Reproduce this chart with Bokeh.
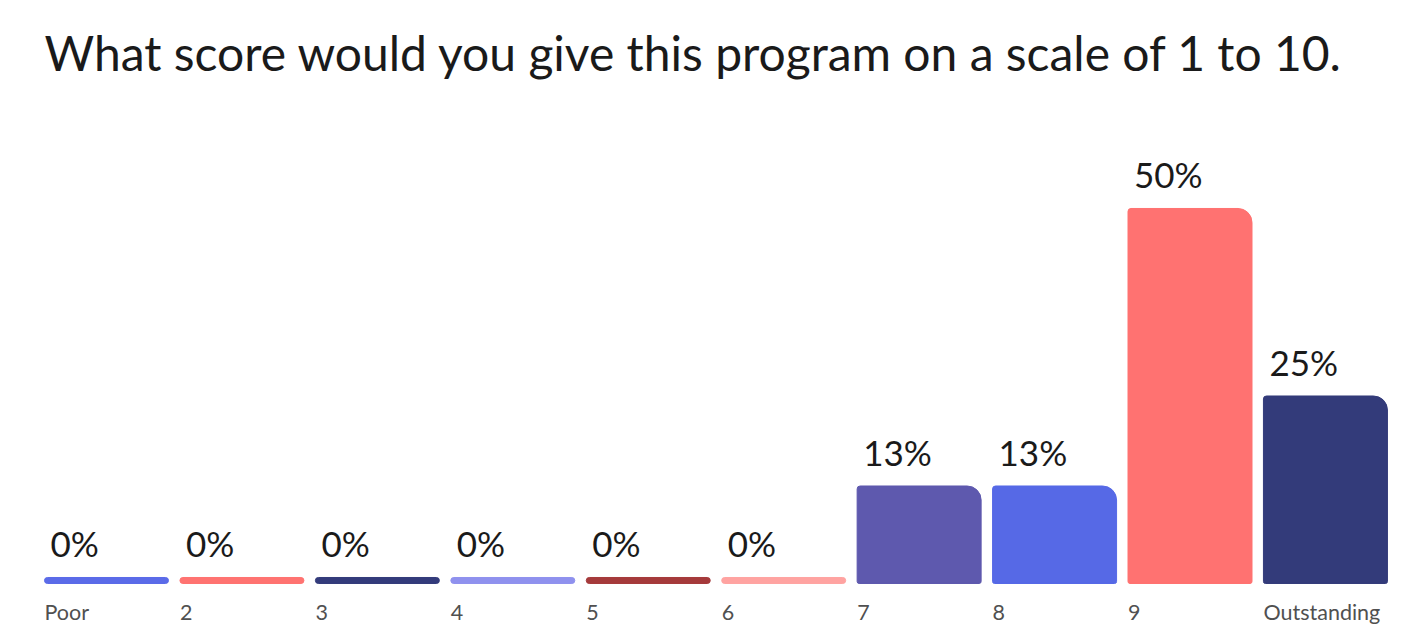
from bokeh.plotting import figure
from bokeh.models import ColumnDataSource, Range1d, Label
from bokeh.core.properties import value
from bokeh.embed import file_html
from bokeh.resources import INLINE

title_text = "What score would you give this program on a scale of  1 to 10."
categories = ["Poor", "2", "3", "4", "5", "6", "7", "8", "9", "Outstanding"]
percentages = [0, 0, 0, 0, 0, 0, 13, 13, 50, 25]
colors = ["#5b6be8", "#ff7371", "#333b7b", "#8f91ee", "#a53a3b",
          "#ffa3a1", "#5e59ae", "#5669e6", "#ff7271", "#333b7a"]

FONT = "Lato"
BAR_W = 0.9155
MIN_H = 0.8  # visual stub for 0% answers

idx = list(range(len(categories)))
heights = [max(v, MIN_H) for v in percentages]
labels = [f"{v}%" for v in percentages]
lefts = [i - BAR_W / 2 for i in idx]

src = ColumnDataSource(dict(x=idx, top=heights, val=percentages, color=colors,
                            label=labels, cat=categories, left=lefts))
nz = ColumnDataSource(dict(x=[i for i in idx if percentages[i] > 0],
                           top=[heights[i] for i in idx if percentages[i] > 0],
                           color=[colors[i] for i in idx if percentages[i] > 0]))
zz = ColumnDataSource(dict(x=[i for i in idx if percentages[i] == 0],
                           top=[heights[i] for i in idx if percentages[i] == 0],
                           color=[colors[i] for i in idx if percentages[i] == 0]))

W, H = 1397, 628
p = figure(width=W, height=H, output_backend="svg", toolbar_location=None,
           min_border=0, x_range=Range1d(-0.7826, 9.532),
           y_range=Range1d(-6.0, 77.73))
p.axis.visible = False
p.grid.visible = False
p.outline_line_color = None
p.background_fill_color = "white"

p.vbar(x="x", top="top", bottom=0, width=BAR_W, color="color", source=nz,
       border_radius=(3, 14, 2, 2))
p.vbar(x="x", top="top", bottom=0, width=BAR_W, color="color", source=zz,
       border_radius=3)

p.text(x="left", y="top", text="label", source=src, x_offset=6, y_offset=-34,
       text_font=value(FONT), text_font_size="35px", text_color="#1a1a1a",
       text_baseline="alphabetic", text_align="left")
p.text(x="left", y=0, text="cat", source=src, x_offset=0, y_offset=29,
       text_font=value(FONT), text_font_size="21.5px", text_color="#505050",
       text_baseline="alphabetic", text_align="left")

p.add_layout(Label(x=44, y=576, x_units="screen", y_units="screen", text=title_text,
                   text_font=FONT, text_font_size="48px", text_color="#1a1a1a",
                   text_baseline="alphabetic"))

open("out.html", "w").write(file_html(p, INLINE))
